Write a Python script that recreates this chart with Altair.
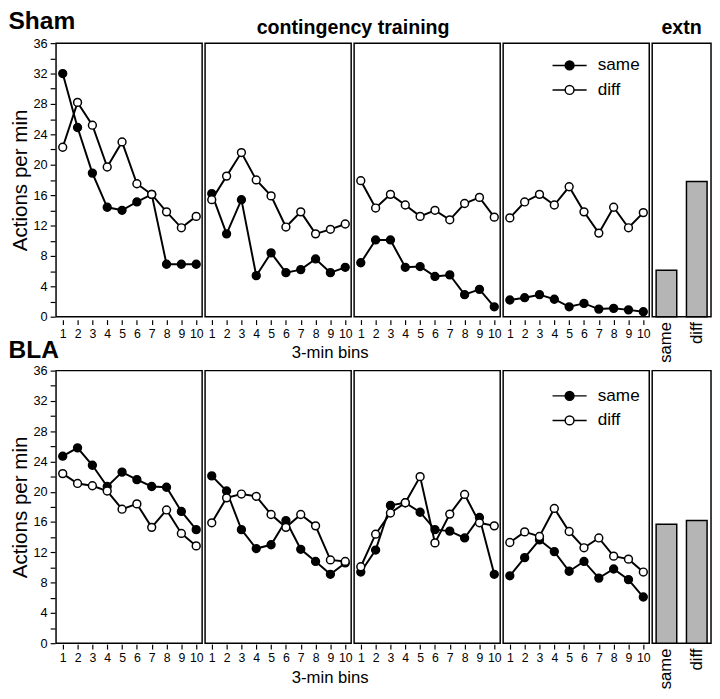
import altair as alt
import pandas as pd

bins = list(range(1, 11))
sessions = [1, 2, 3, 4]
series_names = ["same", "diff"]

sham_same = [
    [32.0, 24.9, 18.9, 14.4, 14.0, 15.1, 16.1, 6.9, 6.9, 6.9],
    [16.2, 10.9, 15.4, 5.4, 8.4, 5.8, 6.2, 7.6, 5.8, 6.5],
    [7.1, 10.1, 10.1, 6.5, 6.6, 5.3, 5.5, 2.9, 3.6, 1.3],
    [2.2, 2.5, 2.9, 2.3, 1.3, 1.75, 1.0, 1.1, 0.9, 0.65],
]
sham_diff = [
    [22.3, 28.2, 25.2, 19.7, 23.0, 17.5, 16.1, 13.8, 11.7, 13.2],
    [15.4, 18.5, 21.6, 18.0, 15.9, 11.8, 13.8, 10.9, 11.5, 12.2],
    [17.9, 14.3, 16.1, 14.7, 13.2, 14.0, 12.75, 14.9, 15.7, 13.1],
    [13.0, 15.1, 16.1, 14.7, 17.1, 13.8, 11.0, 14.4, 11.7, 13.7],
]
bla_same = [
    [24.7, 25.8, 23.5, 20.7, 22.6, 21.6, 20.7, 20.6, 17.4, 15.0],
    [22.1, 20.1, 15.0, 12.5, 13.0, 16.2, 12.4, 10.8, 9.1, 10.6],
    [9.4, 12.3, 18.2, 18.55, 17.3, 15.0, 14.8, 13.9, 16.6, 9.1],
    [8.9, 11.3, 13.65, 12.1, 9.5, 10.8, 8.6, 9.8, 8.4, 6.1],
]
bla_diff = [
    [22.4, 21.1, 20.8, 20.1, 17.7, 18.4, 15.3, 17.6, 14.5, 12.85],
    [15.9, 19.2, 19.7, 19.4, 17.0, 15.3, 17.0, 15.5, 11.0, 10.8],
    [10.1, 14.4, 17.2, 18.55, 22.0, 13.25, 17.05, 19.65, 15.9, 15.5],
    [13.3, 14.7, 14.1, 17.8, 14.75, 12.6, 13.9, 11.5, 11.1, 9.4],
]
ext_labels = ["same", "diff"]
sham_ext = [6.1, 17.8]
bla_ext = [15.7, 16.2]

FONT = "Liberation Sans"
Y_TICKS = list(range(0, 37, 2))
LEGEND_PATH = ("M-2.9,0H-0.75M0.75,0H2.9"
               "M-0.75,0A0.75,0.75,0,1,1,0.75,0A0.75,0.75,0,1,1,-0.75,0Z")


def long_df(same, diff):
    rows = []
    for s_i, s in enumerate(sessions):
        for b_i, b in enumerate(bins):
            rows.append({"session": s, "bin": b, "series": "same", "value": same[s_i][b_i]})
            rows.append({"session": s, "bin": b, "series": "diff", "value": diff[s_i][b_i]})
    return pd.DataFrame(rows)


def make_row(same, diff, ext, row_title, top_headers, title_offset, legend_y, h):
    df = long_df(same, diff)
    base = alt.Chart(df).encode(
        x=alt.X("bin:Q",
                scale=alt.Scale(domain=[0.55, 10.4], nice=False, zero=False),
                axis=alt.Axis(values=bins, title=None, grid=False, labelFontSize=12.5,
                              tickSize=5, labelFlush=False, domain=False, labelPadding=3)),
        y=alt.Y("value:Q",
                scale=alt.Scale(domain=[0, 36], nice=False),
                axis=alt.Axis(values=Y_TICKS,
                              labelExpr="datum.value % 4 == 0 ? datum.label : ''",
                              title="Actions per min", titleFontSize=21, titleFontWeight="normal",
                              grid=False, labelFontSize=13, tickSize=5, domain=False,
                              labelPadding=3, titlePadding=3)),
    )
    lines = base.mark_line(color="black", strokeWidth=2).encode(detail="series:N")
    pts = base.mark_circle(size=64, stroke="black", strokeWidth=1.5, opacity=1).encode(
        fill=alt.Fill("series:N",
                      scale=alt.Scale(domain=series_names, range=["black", "white"]),
                      legend=alt.Legend(title=None, orient="none", legendX=515, legendY=legend_y,
                                        symbolType=LEGEND_PATH, symbolSize=144,
                                        symbolStrokeColor="black", symbolStrokeWidth=1.5,
                                        labelFontSize=17.5, labelFont=FONT, labelOffset=20,
                                        labelColor="black", rowPadding=6)))
    col_header = alt.Header(title="contingency training" if top_headers else "",
                            labels=False, titleFontSize=20, titleFontWeight="bold",
                            titleFont=FONT, titlePadding=-6, titleColor="black")
    line_facet = alt.layer(lines, pts).properties(width=149, height=h).facet(
        column=alt.Column("session:O", header=col_header),
        spacing=0,
    ).properties(title=alt.Title("3-min bins", orient="bottom", anchor="middle", fontSize=17,
                                 fontWeight="normal", font=FONT, offset=6, color="black"))

    bdf = pd.DataFrame({"cond": ext_labels, "value": ext, "ext": "extn"})
    bars = alt.Chart(bdf).mark_bar(color="#b5b5b5", stroke="black", strokeWidth=1.5).encode(
        x=alt.X("cond:N", sort=ext_labels,
                scale=alt.Scale(paddingInner=0.32, paddingOuter=0.13),
                axis=alt.Axis(title=None, labelAngle=270, labelFontSize=17, ticks=False,
                              domain=False, labelPadding=3, labelFont=FONT)),
        y=alt.Y("value:Q", scale=alt.Scale(domain=[0, 36], nice=False), axis=None),
    ).properties(width=60, height=h)
    bar_header = alt.Header(title="extn" if top_headers else "", labels=False,
                            titleFontSize=20, titleFontWeight="bold",
                            titleFont=FONT, titlePadding=-6, titleColor="black")
    bar_facet = bars.facet(column=alt.Column("ext:N", header=bar_header), spacing=0)

    return alt.hconcat(line_facet, bar_facet, spacing=0).properties(
        title=alt.Title(row_title, anchor="start", fontSize=25, fontWeight="bold",
                        font=FONT, offset=title_offset, dx=-1, color="black"))


row1 = make_row(sham_same, sham_diff, sham_ext, "Sham", True, -16, 14, 279)
row2 = make_row(bla_same, bla_diff, bla_ext, "BLA", False, 2, 17, 278)

chart = alt.vconcat(row1, row2, spacing=-25).resolve_scale(fill="independent").resolve_legend(
    fill="independent"
).properties(padding={"top": -5, "left": 0, "right": 0, "bottom": 0}).configure_view(
    stroke="black", strokeWidth=1.5
).configure_axis(
    labelFont=FONT, titleFont=FONT, labelColor="black", titleColor="black",
    tickColor="black", tickWidth=1.2
)

chart.save("out.html", embed_options={"renderer": "svg", "actions": False})
